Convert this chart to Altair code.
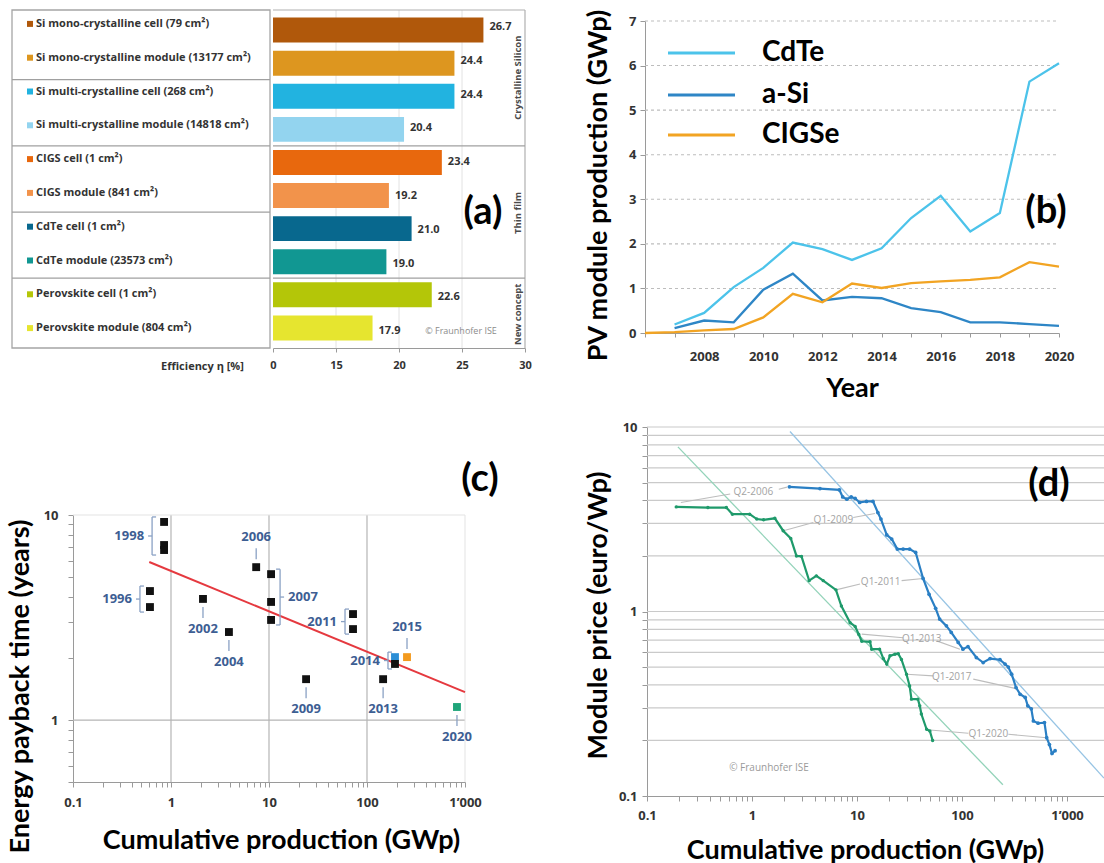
import altair as alt
import pandas as pd

W, H = 1104, 863
TITLE_FONT = "Lato"
BODY_FONT = "Open Sans"
AXIS_GREY = "#9a9a9a"
TICK_TXT = "#333333"

# ---------------- (a) record efficiencies ----------------
A_LABELS = [
    "Si mono-crystalline cell (79 cm²)",
    "Si mono-crystalline module (13177 cm²)",
    "Si multi-crystalline cell (268 cm²)",
    "Si multi-crystalline module (14818 cm²)",
    "CIGS cell (1 cm²)",
    "CIGS module (841 cm²)",
    "CdTe cell (1 cm²)",
    "CdTe module (23573 cm²)",
    "Perovskite cell (1 cm²)",
    "Perovskite module (804 cm²)",
]
A_VALUES = [26.7, 24.4, 24.4, 20.4, 23.4, 19.2, 21.0, 19.0, 22.6, 17.9]
A_GROUPS = ["Crystalline Silicon"] * 4 + ["Thin film"] * 4 + ["New concept"] * 2
A_COLORS = ["#b0580b", "#dd961f", "#22b3e0", "#93d4ef", "#e8680d", "#f2934b",
            "#08688e", "#119792", "#b4c608", "#e6e52f"]
A_TICKS = [10, 15, 20, 25, 30]
A_GRID = [15, 20, 25]

# ---------------- (b) thin-film production ----------------
B_YEARS = list(range(2006, 2021))
B_CDTE = [None, 0.19, 0.45, 1.03, 1.46, 2.03, 1.88, 1.64, 1.90, 2.58, 3.08, 2.28, 2.69, 5.64, 6.05]
B_ASI = [None, 0.11, 0.28, 0.24, 0.97, 1.33, 0.73, 0.81, 0.78, 0.56, 0.47, 0.24, 0.24, 0.20, 0.16]
B_CIGSE = [0.0, 0.02, 0.06, 0.09, 0.35, 0.88, 0.69, 1.11, 1.01, 1.12, 1.16, 1.19, 1.25, 1.59, 1.49]
B_TECH = ["CdTe", "a-Si", "CIGSe"]
B_COLORS = ["#4cc3ea", "#2e86c6", "#f2a423"]
B_GRID = [1, 2, 3, 4, 5, 6, 7]

# ---------------- (c) energy payback time ----------------
C_YEAR = [1996, 1996, 1998, 1998, 1998, 2002, 2004, 2006, 2007, 2007, 2007,
          2009, 2011, 2011, 2013, 2014, 2014, 2015, 2020]
C_X = [0.61, 0.61, 0.85, 0.85, 0.85, 2.12, 3.9, 7.4, 10.5, 10.5, 10.5,
       23.9, 72, 72, 146, 193, 193, 256, 828]
C_Y = [4.26, 3.56, 9.25, 7.14, 6.75, 3.9, 2.69, 5.57, 5.15, 3.77, 3.08,
       1.585, 3.29, 2.78, 1.585, 2.03, 1.88, 2.03, 1.16]
C_SERIES = ["study"] * 15 + ["study 2014", "study", "study 2015", "study 2020"]
C_SERIES_DOMAIN = ["study", "study 2014", "study 2015", "study 2020"]
C_SERIES_COLORS = ["#111111", "#2b8ed6", "#f39a1e", "#1fa57a"]
C_FIT_X = [0.6, 1000]
C_FIT_Y = [5.9, 1.37]

# ---------------- (d) price learning curves ----------------
D_G_X = [0.19, 0.38, 0.57, 0.65, 0.95, 1.11, 1.29, 1.65, 1.98, 2.34, 2.65, 2.96, 3.5, 4.1,
         4.77, 6.3, 7.1, 8.6, 9.6, 10.4, 11.1, 13.3, 13.8, 16.4, 17.8, 19.2, 20.6, 23.0,
         24.7, 26.5, 29.6, 31.7, 33.0, 38.0, 39.6, 41.0, 46.0, 49.4, 52.5]
D_G_Y = [3.69, 3.66, 3.66, 3.37, 3.37, 3.17, 3.14, 3.2, 2.74, 2.49, 2.0, 1.99, 1.47, 1.56,
         1.47, 1.31, 1.07, 0.87, 0.83, 0.75, 0.69, 0.685, 0.625, 0.625, 0.556, 0.519, 0.575,
         0.587, 0.59, 0.55, 0.457, 0.395, 0.335, 0.335, 0.308, 0.278, 0.23, 0.225, 0.20]
D_B_X = [2.27, 4.44, 6.8, 7.3, 8.0, 8.8, 9.6, 10.6, 12.3, 14.2, 15.8, 16.9, 19.2, 21.4,
         24.2, 27.5, 31.7, 36.2, 42.6, 48.6, 56.1, 61.2, 71, 79, 92, 102, 114, 137, 159,
         185, 230, 257, 276, 297, 327, 358, 400, 423, 457, 478, 530, 610, 640, 680, 720, 770]
D_B_Y = [4.74, 4.64, 4.56, 4.18, 4.06, 4.18, 4.1, 3.9, 3.95, 3.95, 3.44, 3.17, 2.6, 2.47,
         2.18, 2.18, 2.18, 2.09, 1.51, 1.24, 1.04, 0.91, 0.836, 0.77, 0.68, 0.625, 0.645,
         0.563, 0.529, 0.556, 0.548, 0.519, 0.5, 0.457, 0.387, 0.356, 0.342, 0.308, 0.297,
         0.255, 0.248, 0.25, 0.207, 0.19, 0.17, 0.176]
D_G_FIT_X = [0.197, 245]
D_G_FIT_Y = [7.8, 0.115]
D_B_FIT_X = [2.3, 2250]
D_B_FIT_Y = [9.46, 0.125]
D_NOTE = ["Q2-2006", "Q1-2009", "Q1-2011", "Q1-2013", "Q1-2017", "Q1-2020"]
D_NOTE_X = [1.03, 5.96, 16.8, 41.3, 79.8, 178]
D_NOTE_Y = [4.45, 3.14, 1.44, 0.708, 0.443, 0.216]
D_LEAD_X1 = [0.62, 1.8, 3.84, 9.2, 10.7, 26.6, 27.5, 57.4, 53.3, 128, 115, 276]
D_LEAD_Y1 = [4.33, 4.6, 3.04, 3.23, 1.41, 1.47, 0.72, 0.693, 0.448, 0.43, 0.219, 0.216]
D_LEAD_X2 = [0.21, 2.15, 1.99, 14.8, 6.3, 42.6, 11.1, 95.6, 29.6, 320, 49.6, 640]
D_LEAD_Y2 = [3.9, 4.72, 2.74, 3.4, 1.31, 1.51, 0.754, 0.625, 0.457, 0.383, 0.228, 0.207]


def single_row():
    return pd.DataFrame({"k": [0]})


def log_ticks(lo_exp, hi_exp, last=None):
    vals = []
    for e in range(lo_exp, hi_exp + 1):
        for m in range(1, 10):
            vals.append(round(m * 10 ** e, 6))
    vals.append(round(10 ** (hi_exp + 1), 6))
    if last is not None:
        vals = [v for v in vals if v <= last]
    return vals


def axis_style(**kw):
    base = dict(domainColor=AXIS_GREY, tickColor=AXIS_GREY, labelColor=TICK_TXT,
                labelFont=BODY_FONT, labelFontWeight="bold", labelFontSize=13,
                titleFont=TITLE_FONT, titleFontWeight="bold", titleFontSize=27,
                titleColor="#000000", grid=False, labelFlush=False, labelOverlap=False,
                titleAlign="center", titleBaseline="middle")
    base.update(kw)
    return alt.Axis(**base)


def panel_letter(text, px, py):
    return alt.Chart(single_row()).mark_text(
        text=text, font=TITLE_FONT, fontWeight="bold", fontSize=38, color="#000000",
        align="center", baseline="middle",
    ).encode(x=alt.value(px), y=alt.value(py))


layers = []

# ======================= panel (a) =======================
dfa = pd.DataFrame({"cell": A_LABELS, "eff": A_VALUES, "group": A_GROUPS,
                    "i": list(range(len(A_LABELS)))})
xa = alt.Scale(domain=[10, 30], range=[273, 525], nice=False, zero=False)
ya = alt.Scale(domain=A_LABELS, range=[10, 348], paddingInner=0.245, paddingOuter=0.23)
ca = alt.Scale(domain=A_LABELS, range=A_COLORS)
xa_axis = axis_style(orient="bottom", offset=-(H - 348), values=A_TICKS,
                     labelExpr="datum.value == 10 ? '0' : datum.label",
                     labelFontSize=11, tickSize=4, labelPadding=7,
                     title="Efficiency η [%]", titleFont=BODY_FONT, titleFontSize=11,
                     titleColor=TICK_TXT, titleX=202, titleY=18)
Ya = alt.Y("cell:N", scale=ya, axis=None)
Xa = alt.X("eff:Q", scale=xa, axis=None)

layers.append(alt.Chart(single_row()).mark_rect(
    fill="transparent", stroke="#a5a5a5", strokeWidth=1.3
).encode(x=alt.value(12), x2=alt.value(270), y=alt.value(10), y2=alt.value(348)))

layers.append(alt.Chart(dfa).transform_filter("datum.i % 2 == 1 && datum.i < 9").mark_rule(
    color="#a0a0a0", strokeWidth=1.3, yOffset=4
).encode(y=alt.Y("cell:N", scale=ya, axis=None, bandPosition=1),
         x=alt.value(12), x2=alt.value(270)))

layers.append(alt.Chart(pd.DataFrame({"t": A_GRID})).mark_rule(color="#e2e2e2").encode(
    x=alt.X("t:Q", scale=xa, axis=None), y=alt.value(10), y2=alt.value(348)))

layers.append(alt.Chart(single_row()).mark_rule(color="#b0b0b0", strokeWidth=1.2).encode(
    x=alt.XDatum(10, scale=xa, axis=None), x2=alt.X2Datum(30), y=alt.value(10)))
layers.append(alt.Chart(single_row()).mark_rule(color="#b0b0b0", strokeWidth=1.2).encode(
    x=alt.XDatum(30, scale=xa, axis=None), y=alt.value(10), y2=alt.value(348)))

layers.append(alt.Chart(dfa).transform_filter("datum.i == 3 || datum.i == 7").mark_rule(
    color="#a0a0a0", strokeWidth=1.3, yOffset=4
).encode(y=alt.Y("cell:N", scale=ya, axis=None, bandPosition=1),
         x=alt.XDatum(10, scale=xa, axis=None), x2=alt.X2Datum(30)))

layers.append(alt.Chart(dfa).mark_bar().encode(
    y=Ya, x=alt.X("eff:Q", scale=xa, axis=xa_axis), x2=alt.X2Datum(10),
    color=alt.Color("cell:N", scale=ca, legend=None)))

layers.append(alt.Chart(dfa).mark_text(
    align="left", baseline="middle", dx=6, fontSize=11, fontWeight="bold", color=TICK_TXT
).encode(y=Ya, x=Xa, text=alt.Text("eff:Q", format=".1f")))

layers.append(alt.Chart(dfa).mark_text(
    align="left", baseline="middle", dy=-3, fontSize=11, fontWeight="bold", color=TICK_TXT
).encode(y=Ya, x=alt.value(36), text="cell:N"))

layers.append(alt.Chart(dfa).mark_square(size=36, opacity=1, yOffset=-3).encode(
    y=Ya, x=alt.value(30), color=alt.Color("cell:N", scale=ca, legend=None)))

# group names sit on the boundary between the two middle rows of each group
layers.append(alt.Chart(dfa).transform_filter("datum.i == 1 || datum.i == 5 || datum.i == 8").mark_text(
    angle=270, align="center", baseline="middle", fontSize=9.5, fontWeight="bold",
    color="#4a4a4a", yOffset=17
).encode(y=Ya, x=alt.value(518), text="group:N"))

layers.append(alt.Chart(single_row()).mark_text(
    text="© Fraunhofer ISE", fontSize=9, color="#8c8c8c", align="center", baseline="middle"
).encode(x=alt.value(461), y=alt.value(331)))

layers.append(panel_letter("(a)", 483, 213))

# ======================= panel (b) =======================
rows_b = []
for tech, series in zip(B_TECH, [B_CDTE, B_ASI, B_CIGSE]):
    for yr, v in zip(B_YEARS, series):
        if v is not None:
            rows_b.append({"year": yr, "gwp": v, "tech": tech})
dfb = pd.DataFrame(rows_b)
xb = alt.Scale(domain=[2006, 2020], range=[645, 1059], nice=False, zero=False)
yb = alt.Scale(domain=[0, 7], range=[333, 21], nice=False, zero=False)
cb = alt.Scale(domain=B_TECH, range=B_COLORS)
xb_axis = axis_style(orient="bottom", offset=-(H - 333), values=B_YEARS, format="d",
                     labelExpr="datum.value % 2 == 0 && datum.value > 2006 ? datum.label : ''",
                     tickSize=4, labelPadding=13, title="Year", titleX=852, titleY=55)
yb_axis = axis_style(orient="left", offset=-645, values=[0] + B_GRID, format="d",
                     tickSize=5, labelPadding=4, title="PV module production (GWp)",
                     titleX=-47, titleY=185, titleAngle=270)

layers.append(alt.Chart(pd.DataFrame({"v": B_GRID})).mark_rule(
    color="#bdbdbd", strokeDash=[3, 3], strokeWidth=1.1
).encode(y=alt.Y("v:Q", scale=yb, axis=None),
         x=alt.XDatum(2006, scale=xb, axis=None), x2=alt.X2Datum(2020)))

layers.append(alt.Chart(dfb).mark_line(strokeWidth=2.3).encode(
    x=alt.X("year:Q", scale=xb, axis=xb_axis),
    y=alt.Y("gwp:Q", scale=yb, axis=yb_axis),
    color=alt.Color("tech:N", scale=cb, legend=None),
    order="year:Q"))

for tech, col, py in zip(B_TECH, B_COLORS, [53, 95, 135]):
    layers.append(alt.Chart(single_row()).mark_rule(color=col, strokeWidth=3).encode(
        x=alt.value(668), x2=alt.value(735), y=alt.value(py)))
    layers.append(alt.Chart(single_row()).mark_text(
        text=tech, font=TITLE_FONT, fontWeight="bold", fontSize=28, color="#000000",
        align="left", baseline="middle").encode(x=alt.value(762), y=alt.value(py)))

layers.append(panel_letter("(b)", 1046, 212))

# ======================= panel (c) =======================
dfc = pd.DataFrame({"year": C_YEAR, "x": C_X, "y": C_Y, "series": C_SERIES})
xc = alt.Scale(type="log", domain=[0.1, 1000], range=[73, 465], nice=False)
yc = alt.Scale(type="log", domain=[0.5, 10], range=[782, 515], nice=False)
cc = alt.Scale(domain=C_SERIES_DOMAIN, range=C_SERIES_COLORS)
decade_expr = ("datum.value == 1000 ? '1\u2019000' : "
               "(indexof([0.1, 1, 10, 100], datum.value) >= 0 ? datum.label : '')")
xc_axis = axis_style(orient="bottom", offset=-(H - 782), values=log_ticks(-1, 2), format="~g",
                     labelExpr=decade_expr, tickSize=5, labelPadding=9,
                     title="Cumulative production (GWp)", titleX=281, titleY=58)
yc_axis = axis_style(orient="left", offset=-73,
                     values=[0.5, 0.6, 0.7, 0.8, 0.9] + log_ticks(0, 0), format="~g",
                     labelExpr="indexof([1, 10], datum.value) >= 0 ? datum.label : ''",
                     tickSize=5, labelPadding=10,
                     title="Energy payback time (years)", titleX=-53, titleY=686, titleAngle=270)
Xc = alt.X("x:Q", scale=xc, axis=None)

layers.append(alt.Chart(pd.DataFrame({"g": [1, 10, 100]})).mark_rule(color="#b5b5b5", strokeWidth=1.2).encode(
    x=alt.X("g:Q", scale=xc, axis=None), y=alt.YDatum(0.5, scale=yc, axis=None), y2=alt.Y2Datum(10)))
layers.append(alt.Chart(single_row()).mark_rule(color="#b5b5b5", strokeWidth=1.2).encode(
    y=alt.YDatum(1, scale=yc, axis=None), x=alt.XDatum(0.1, scale=xc, axis=None), x2=alt.X2Datum(1000)))
layers.append(alt.Chart(single_row()).mark_rule(color="#e3e3e3").encode(
    y=alt.YDatum(10, scale=yc, axis=None), x=alt.XDatum(0.1, scale=xc, axis=None), x2=alt.X2Datum(1000)))
layers.append(alt.Chart(single_row()).mark_rule(color="#e3e3e3").encode(
    x=alt.XDatum(1000, scale=xc, axis=None), y=alt.YDatum(0.5, scale=yc, axis=None), y2=alt.Y2Datum(10)))

layers.append(alt.Chart(pd.DataFrame({"x": C_FIT_X, "y": C_FIT_Y})).mark_line(
    color="#e5393f", strokeWidth=2).encode(x=Xc, y=alt.Y("y:Q", scale=yc, axis=None)))

# year annotations: brackets for groups of studies, short leaders for single ones
grp = dfc.groupby("year").agg(x=("x", "first"), ytop=("y", "max"), ybot=("y", "min")).reset_index()
grp["ymid"] = (grp["ytop"] * grp["ybot"]) ** 0.5
grp["label"] = grp["year"].astype(str)
BRACE_OFFSET = {1996: -10, 1998: -12, 2007: 9, 2011: -8, 2014: -7}
LEADER_DIR = {2002: 1, 2004: 1, 2006: -1, 2009: 1, 2013: 1, 2015: -1, 2020: 1}
ANN_BLUE = "#3d5e93"
BR_BLUE = "#8aa1c4"

for _, r in grp.iterrows():
    d = pd.DataFrame([r])
    yr = int(r["year"])
    if yr in BRACE_OFFSET:
        off = BRACE_OFFSET[yr]
        sgn = 1 if off > 0 else -1
        layers.append(alt.Chart(d).mark_rule(
            color=BR_BLUE, strokeWidth=1.3, xOffset=off, x2Offset=off, yOffset=-5, y2Offset=5
        ).encode(x=Xc, x2="x:Q", y=alt.Y("ytop:Q", scale=yc, axis=None), y2="ybot:Q"))
        for fld, yo in (("ytop", -5), ("ybot", 5)):
            layers.append(alt.Chart(d).mark_rule(
                color=BR_BLUE, strokeWidth=1.3, xOffset=off, x2Offset=off - sgn * 4,
                yOffset=yo, y2Offset=yo
            ).encode(x=Xc, x2="x:Q", y=alt.Y(f"{fld}:Q", scale=yc, axis=None), y2=f"{fld}:Q"))
        layers.append(alt.Chart(d).mark_rule(
            color=BR_BLUE, strokeWidth=1.3, xOffset=off, x2Offset=off + sgn * 4
        ).encode(x=Xc, x2="x:Q", y=alt.Y("ymid:Q", scale=yc, axis=None), y2="ymid:Q"))
        layers.append(alt.Chart(d).mark_text(
            color=ANN_BLUE, fontSize=13, fontWeight="bold", baseline="middle",
            align="left" if sgn > 0 else "right", dx=off + sgn * 8
        ).encode(x=Xc, y=alt.Y("ymid:Q", scale=yc, axis=None), text="label:N"))
    else:
        dirn = LEADER_DIR[yr]
        layers.append(alt.Chart(d).mark_rule(
            color=BR_BLUE, strokeWidth=1.3, yOffset=dirn * 8, y2Offset=dirn * 19
        ).encode(x=Xc, x2="x:Q", y=alt.Y("ytop:Q", scale=yc, axis=None), y2="ytop:Q"))
        layers.append(alt.Chart(d).mark_text(
            color=ANN_BLUE, fontSize=13, fontWeight="bold", baseline="middle",
            align="center", dy=dirn * 30
        ).encode(x=Xc, y=alt.Y("ytop:Q", scale=yc, axis=None), text="label:N"))

layers.append(alt.Chart(dfc).mark_square(size=62, opacity=1).encode(
    x=alt.X("x:Q", scale=xc, axis=xc_axis), y=alt.Y("y:Q", scale=yc, axis=yc_axis),
    color=alt.Color("series:N", scale=cc, legend=None)))

layers.append(panel_letter("(c)", 480, 480))

# ======================= panel (d) =======================
xd = alt.Scale(type="log", domain=[0.1, 2250], range=[647, 1104], nice=False)
yd = alt.Scale(type="log", domain=[0.1, 10], range=[796, 427], nice=False)
xd_axis = axis_style(orient="bottom", offset=-(H - 796), values=log_ticks(-1, 2, last=2000),
                     format="~g", labelExpr=decade_expr, tickSize=5, labelPadding=8,
                     title="Cumulative production (GWp)", titleX=865, titleY=54)
yd_axis = axis_style(orient="left", offset=-647, values=log_ticks(-1, 0), format="~g",
                     labelExpr="indexof([0.1, 1, 10], datum.value) >= 0 ? datum.label : ''",
                     tickSize=5, labelPadding=5,
                     title="Module price (euro/Wp)", titleX=-49, titleY=615, titleAngle=270)
Xd = alt.X("x:Q", scale=xd, axis=None)
Yd = alt.Y("y:Q", scale=yd, axis=None)

layers.append(alt.Chart(pd.DataFrame({"g": log_ticks(-1, 0)[1:]})).mark_rule(
    color="#cacaca", strokeWidth=1.2
).encode(y=alt.Y("g:Q", scale=yd, axis=None),
         x=alt.XDatum(0.1, scale=xd, axis=None), x2=alt.X2Datum(2250)))

layers.append(alt.Chart(pd.DataFrame({"x": D_G_FIT_X, "y": D_G_FIT_Y})).mark_line(
    color="#93d3b9", strokeWidth=1.3).encode(x=Xd, y=Yd))
layers.append(alt.Chart(pd.DataFrame({"x": D_B_FIT_X, "y": D_B_FIT_Y})).mark_line(
    color="#97c4e4", strokeWidth=1.3).encode(x=Xd, y=Yd))

layers.append(alt.Chart(pd.DataFrame({"x": D_LEAD_X1, "y": D_LEAD_Y1,
                                      "x2": D_LEAD_X2, "y2": D_LEAD_Y2})).mark_rule(
    color="#bdbdbd", strokeWidth=1.1).encode(x=Xd, y=Yd, x2="x2:Q", y2="y2:Q"))

layers.append(alt.Chart(pd.DataFrame({"x": D_NOTE_X, "y": D_NOTE_Y, "t": D_NOTE})).mark_text(
    fontSize=10, color="#a3a3a3", align="center", baseline="middle").encode(x=Xd, y=Yd, text="t:N"))

dfg = pd.DataFrame({"x": D_G_X, "y": D_G_Y, "i": list(range(len(D_G_X)))})
dfbl = pd.DataFrame({"x": D_B_X, "y": D_B_Y, "i": list(range(len(D_B_X)))})

layers.append(alt.Chart(dfg).mark_line(color="#1f9a6b", strokeWidth=2.2).encode(
    x=alt.X("x:Q", scale=xd, axis=xd_axis), y=alt.Y("y:Q", scale=yd, axis=yd_axis), order="i:Q"))
layers.append(alt.Chart(dfg).mark_circle(color="#1f9a6b", size=12, opacity=1).encode(x=Xd, y=Yd))
layers.append(alt.Chart(dfbl).mark_line(color="#2a7fc4", strokeWidth=2.2).encode(x=Xd, y=Yd, order="i:Q"))
layers.append(alt.Chart(dfbl).mark_circle(color="#2a7fc4", size=14, opacity=1).encode(x=Xd, y=Yd))

layers.append(alt.Chart(single_row()).mark_text(
    text="© Fraunhofer ISE", fontSize=10, color="#9a9a9a", align="center", baseline="middle"
).encode(x=alt.value(769), y=alt.value(768)))

layers.append(panel_letter("(d)", 1049, 485))

chart = alt.layer(*layers).resolve_scale(
    x="independent", y="independent", color="independent"
).properties(
    width=W, height=H, padding=0, autosize=alt.AutoSizeParams(type="none")
).configure(font=BODY_FONT, background="white").configure_view(stroke=None)

chart.save("out.html", embed_options={"renderer": "svg", "actions": False})
